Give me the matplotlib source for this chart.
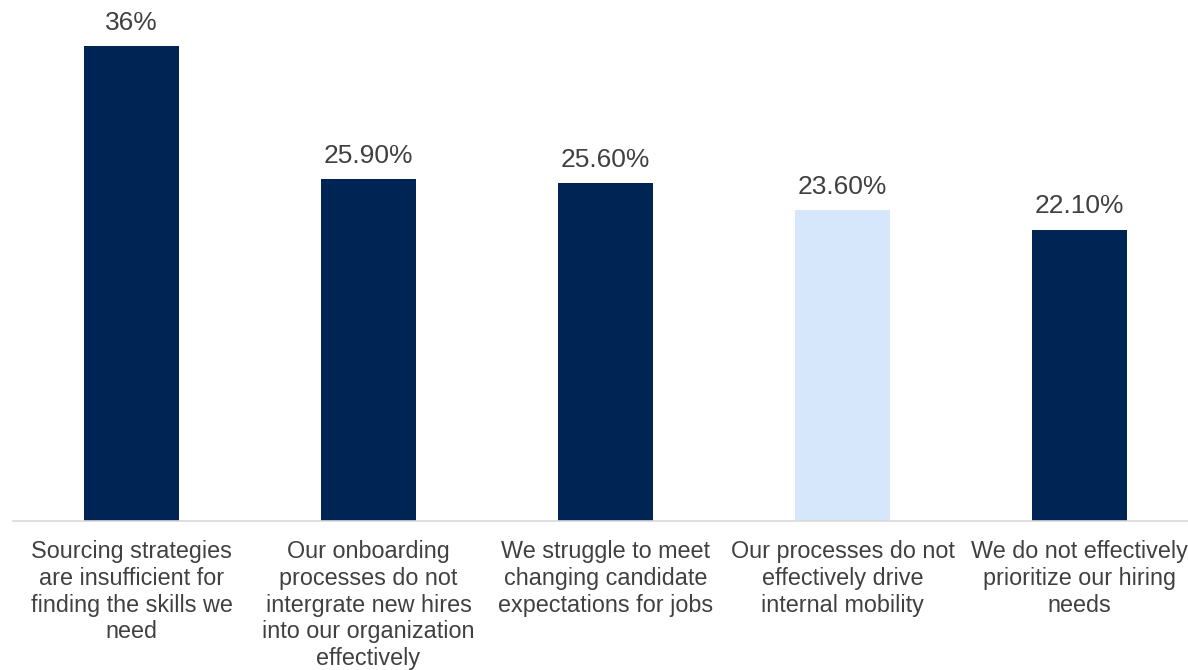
import matplotlib.pyplot as plt

categories = [
    "Sourcing strategies\nare insufficient for\nfinding the skills we\nneed",
    "Our onboarding\nprocesses do not\nintergrate new hires\ninto our organization\neffectively",
    "We struggle to meet\nchanging candidate\nexpectations for jobs",
    "Our processes do not\neffectively drive\ninternal mobility",
    "We do not effectively\nprioritize our hiring\nneeds",
]
values = [36, 25.9, 25.6, 23.6, 22.1]
value_labels = ["36%", "25.90%", "25.60%", "23.60%", "22.10%"]
colors = ["#002554", "#002554", "#002554", "#d6e6fb", "#002554"]

plt.rcParams['font.family'] = ['Liberation Sans', 'DejaVu Sans']

fig = plt.figure(figsize=(11.88, 6.7), dpi=100)
ax = fig.add_axes([13 / 1188, 149 / 670, 1185 / 1188, 521 / 670])

x = range(len(values))
bars = ax.bar(x, values, width=0.4, color=colors)

for b, lab in zip(bars, value_labels):
    ax.text(b.get_x() + b.get_width() / 2, b.get_height() + 0.85, lab,
            ha='center', va='bottom', fontsize=19, color='#404040')

ax.set_xlim(-0.5, 4.5)
ax.set_ylim(0, 39.5)
ax.set_xticks(list(x))
ax.set_xticklabels(categories, fontsize=16.8, color='#404040', linespacing=1.2)
ax.tick_params(axis='x', length=0, pad=14)
ax.set_yticks([])
for s in ['top', 'right', 'left']:
    ax.spines[s].set_visible(False)
ax.spines['bottom'].set_color('#d9d9d9')
ax.spines['bottom'].set_linewidth(1.2)

fig.savefig('out.png', dpi=100)
